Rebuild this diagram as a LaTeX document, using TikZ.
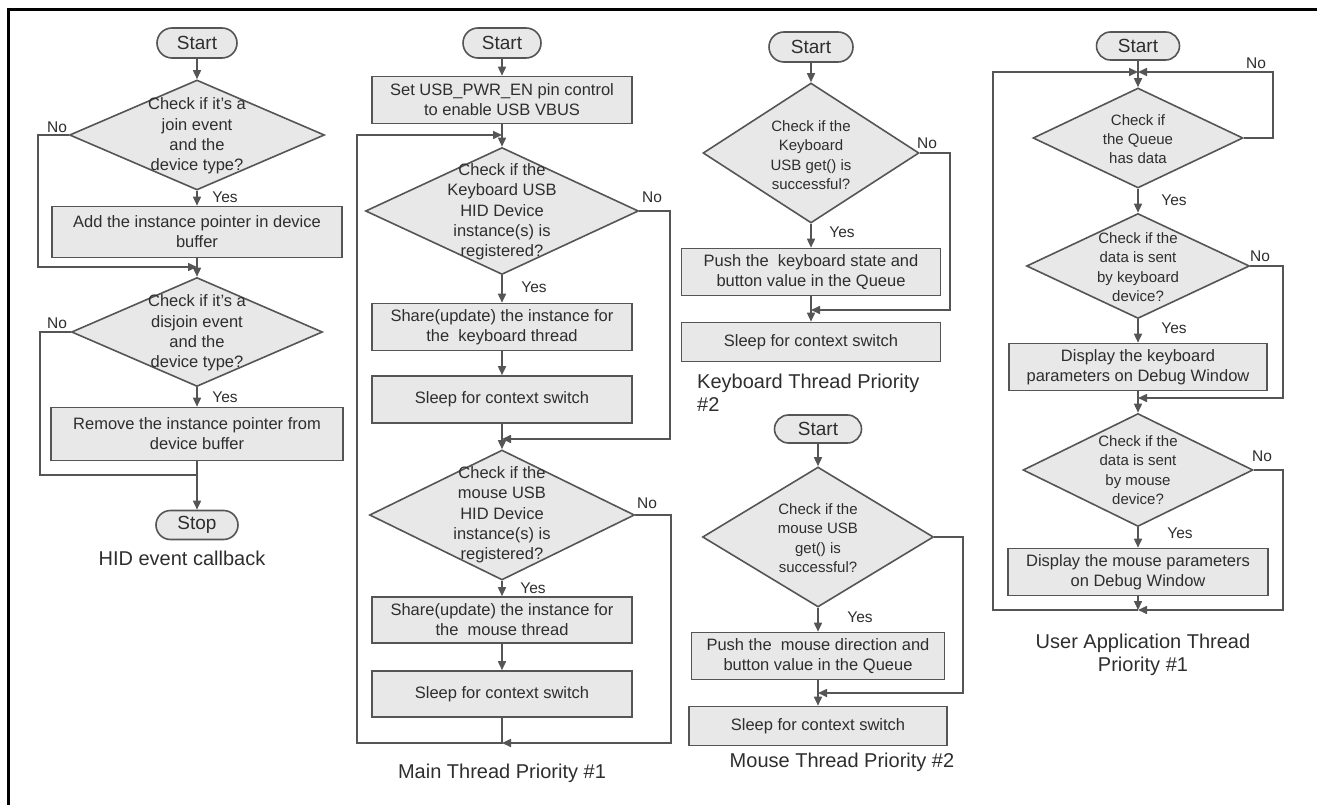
\documentclass[tikz,border=0pt]{standalone}
\usepackage{fontspec}
\setmainfont{Liberation Sans}
\usetikzlibrary{arrows.meta,shapes.geometric,shapes.misc}
\definecolor{fillg}{HTML}{E8E8E8}
\definecolor{lineg}{HTML}{555555}
\definecolor{txt}{HTML}{2E2E2E}
\begin{document}
\begin{tikzpicture}[x=1pt,y=-1pt,
  term/.style={rounded rectangle, draw=lineg, line width=1.6pt, fill=fillg, minimum height=30pt, minimum width=80pt, inner sep=0pt, font=\fontsize{19}{22}\selectfont, text=txt},
  proc/.style={rectangle, draw=lineg, line width=1.6pt, fill=fillg, align=center, inner sep=0pt, minimum width=260pt, minimum height=47pt, font=\fontsize{16.5}{20}\selectfont, text=txt},
  dia/.style={diamond, draw=lineg, line width=1.6pt, fill=fillg, inner sep=0pt},
  dtxt/.style={align=center, inner sep=0pt, font=\fontsize{16.5}{20.3}\selectfont, text=txt},
  dtxs/.style={align=center, inner sep=0pt, font=\fontsize{15}{19.3}\selectfont, text=txt},
  lbl/.style={font=\fontsize{15.5}{18}\selectfont, text=txt, inner sep=0pt},
  captxt/.style={font=\fontsize{20}{23}\selectfont, text=txt, align=center, inner sep=0pt},
  conn/.style={draw=lineg, line width=1.6pt},
  arr/.style={conn, -{Triangle[length=9pt,width=8pt]}}
]
\useasboundingbox (0,0) rectangle (1317,805);
% frame
\draw[line width=3pt] (8,805) -- (8,10) -- (1317,10);

% ---------------- Column 1: HID event callback
\node[term] (s1) at (197,43) {Start};
\node[dia, minimum width=255pt, minimum height=110pt] (d1) at (197,135) {};
\node[dtxt] (d1t) at (197,136) {Check if it's a\\join event\\and the\\device type?};
\node[proc, minimum width=290pt, minimum height=51pt] (b1) at (197,232) {Add the instance pointer in device\\buffer};
\coordinate (j1) at (197,267);
\node[dia, minimum width=251pt, minimum height=109pt] (d2) at (197,332) {};
\node[dtxt] (d2t) at (197,333) {Check if it's a\\disjoin event\\and the\\device type?};
\node[proc, minimum width=292pt, minimum height=53pt] (b2) at (197,434) {Remove the instance pointer from\\device buffer};
\coordinate (j2) at (197,475);
\node[term, minimum width=82pt, minimum height=29pt] (stop) at (197,525) {Stop};
\node[captxt] (c1) at (182,558) {HID event callback};
\node[lbl] (no1) at (57,127) {No};
\node[lbl] (yes1) at (225,197) {Yes};
\node[lbl] (no2) at (57,323) {No};
\node[lbl] (yes2) at (225,397) {Yes};

\draw[arr] (s1) -- (d1);
\draw[arr] (d1) -- (b1);
\draw[arr] (b1) -- (d2);
\draw[arr] (d1.west) -- (38,135) |- (j1);
\draw[arr] (d2) -- (b2);
\draw[arr] (b2) -- (stop);
\draw[conn] (d2.west) -- (40,332) |- (j2);

% ---------------- Column 2: Main thread
\node[term, minimum width=78pt] (s2) at (502,43) {Start};
\node[proc, minimum height=47pt] (b3) at (502,100) {Set USB\_PWR\_EN pin control\\to enable USB VBUS};
\coordinate (j3) at (502,135);
\node[dia, minimum width=273pt, minimum height=127pt] (d3) at (502,211) {};
\node[dtxt] (d3t) at (502,212) {Check if the\\Keyboard USB\\HID Device\\instance(s) is\\registered?};
\node[proc] (b4) at (502,327) {Share(update) the instance for\\the\ \ keyboard thread};
\node[proc] (b5) at (502,399.5) {Sleep for context switch};
\coordinate (j4) at (502,439);
\node[dia, minimum width=265pt, minimum height=130pt] (d4) at (502,515) {};
\node[dtxt] (d4t) at (502,515) {Check if the\\mouse USB\\HID Device\\instance(s) is\\registered?};
\node[proc, minimum height=46pt] (b6) at (502,620) {Share(update) the instance for\\the\ \ mouse thread};
\node[proc, minimum height=46pt] (b7) at (502,694) {Sleep for context switch};
\coordinate (j5) at (502,743);
\node[captxt] (c2) at (502,773) {Main Thread Priority \#1};
\node[lbl] (no3) at (652,197) {No};
\node[lbl] (yes3) at (534,287) {Yes};
\node[lbl] (no4) at (647,503) {No};
\node[lbl] (yes4) at (533,588) {Yes};

\draw[arr] (s2) -- (b3);
\draw[arr] (b3) -- (d3);
\draw[arr] (d3.east) -- (670,211) |- (j4);
\draw[arr] (d3) -- (b4);
\draw[arr] (b4) -- (b5);
\draw[arr] (b5) -- (d4);
\draw[arr] (d4.east) -- (671,515) |- (j5);
\draw[arr] (d4) -- (b6);
\draw[arr] (b6) -- (b7);
\draw[arr] (b7.south) -- (j5) -- (357,743) |- (j3);

% ---------------- Column 3 upper: Keyboard thread
\node[term, minimum width=84pt] (s3) at (811,47) {Start};
\node[dia, minimum width=216pt, minimum height=140pt] (d5) at (811,153) {};
\node[dtxs] (d5t) at (811,155) {Check if the\\Keyboard\\USB get() is\\successful?};
\node[proc, minimum width=259pt] (b8) at (811,272) {Push the\ \ keyboard state and\\button value in the Queue};
\coordinate (j6) at (811,310);
\node[proc, minimum width=259pt, minimum height=39pt] (b9) at (811,342) {Sleep for context switch};
\node[captxt, align=left, anchor=north west] (c3) at (697,374) {Keyboard Thread Priority\\\#2};
\node[lbl] (no5) at (927,143) {No};
\node[lbl] (yes5) at (842,232) {Yes};

\draw[arr] (s3) -- (d5);
\draw[arr] (d5) -- (b8);
\draw[arr] (b8) -- (b9);
\draw[arr] (d5.east) -- (950,153) |- (j6);

% ---------------- Column 3 lower: Mouse thread
\node[term, minimum width=87pt, minimum height=28pt] (s4) at (818,429) {Start};
\node[dia, minimum width=231pt, minimum height=140pt] (d6) at (818,537) {};
\node[dtxs] (d6t) at (818,538) {Check if the\\mouse USB\\get() is\\successful?};
\node[proc, minimum width=253pt] (b10) at (818,656) {Push the\ \ mouse direction and\\button value in the Queue};
\coordinate (j7) at (818,693);
\node[proc, minimum width=258pt, minimum height=39pt] (b11) at (818,726) {Sleep for context switch};
\node[captxt] (c4) at (842,762) {Mouse Thread Priority \#2};
\node[lbl] (yes6) at (860,617) {Yes};

\draw[arr] (s4) -- (d6);
\draw[arr] (d6) -- (b10);
\draw[arr] (b10) -- (b11);
\draw[arr] (d6.east) -- (963,537) |- (j7);

% ---------------- Column 4: User application thread
\node[term, minimum width=83pt, minimum height=28pt] (s5) at (1138,46) {Start};
\coordinate (j8) at (1138,72);
\node[dia, minimum width=210pt, minimum height=100pt] (d7) at (1138,138) {};
\node[dtxs] (d7t) at (1138,139) {Check if\\the Queue\\has data};
\node[dia, minimum width=223pt, minimum height=105pt] (d8) at (1138,266) {};
\node[dtxs] (d8t) at (1138,267) {Check if the\\data is sent\\by keyboard\\device?};
\node[proc, minimum width=258pt] (b12) at (1138,367) {Display the keyboard\\parameters on Debug Window};
\coordinate (j9) at (1138,398);
\node[dia, minimum width=230pt, minimum height=113pt] (d9) at (1138,470) {};
\node[dtxs] (d9t) at (1138,470) {Check if the\\data is sent\\by mouse\\device?};
\node[proc] (b13) at (1138,572) {Display the mouse parameters\\on Debug Window};
\coordinate (j10) at (1138,610);
\node[captxt] (c5) at (1143,655) {User Application Thread\\Priority \#1};
\node[lbl] (no7) at (1256,63) {No};
\node[lbl] (yes7) at (1174,200) {Yes};
\node[lbl] (no8) at (1260,256) {No};
\node[lbl] (yes8) at (1174,328) {Yes};
\node[lbl] (no9) at (1262,456) {No};
\node[lbl] (yes9) at (1180,533) {Yes};

\draw[arr] (s5) -- (d7);
\draw[arr] (d7.east) -- (1273,138) |- (j8);
\draw[arr] (d7) -- (d8);
\draw[arr] (d8.east) -- (1283,266) |- (j9);
\draw[arr] (d8) -- (b12);
\draw[arr] (b12) -- (d9);
\draw[arr] (d9.east) -- (1283,470) |- (j10);
\draw[arr] (d9) -- (b13);
\draw[arr] (b13) -- (j10);
\draw[arr] (j10) -- (993,610) |- (j8);
\end{tikzpicture}
\end{document}
